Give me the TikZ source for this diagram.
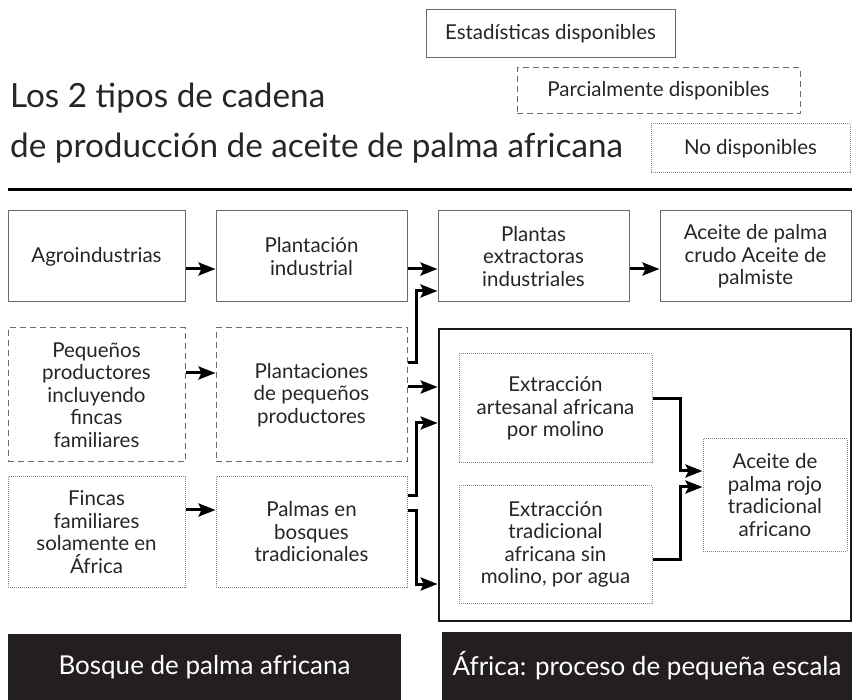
\documentclass[tikz,border=0pt]{standalone}
\usepackage{fontspec}
\setmainfont{Lato}
\usepackage{tikz}
\usetikzlibrary{arrows.meta}
\definecolor{darkbar}{HTML}{231F20}
\definecolor{boxgray}{HTML}{6A6A6A}

\begin{document}
\begin{tikzpicture}[x=1pt,y=-1pt,
    box/.style={draw=boxgray,line width=1pt,align=center,inner sep=2pt,
        font=\fontsize{20.5}{22.5}\selectfont,text=black!85},
    stat/.style={box},
    partial/.style={box,dash pattern=on 6pt off 4pt},
    nodata/.style={box,draw=boxgray!80,densely dotted},
    bar/.style={fill=darkbar,text=white,font=\fontsize{26}{30}\selectfont,inner sep=0pt},
    flow/.style={line width=3pt,-{Stealth[length=17pt,width=13pt,inset=3pt]}}]
\useasboundingbox (0,0) rectangle (852,700);
% legend
\node[stat,minimum width=249pt,minimum height=48pt] (legstat) at (550.5,34) {Estadísticas disponibles};
\node[partial,minimum width=283pt,minimum height=46pt] (legpart) at (658.5,91) {Parcialmente disponibles};
\node[nodata,minimum width=199pt,minimum height=49pt] (legnone) at (750.5,148.5) {No disponibles};
% title
\node[anchor=base west,inner sep=0pt,font=\fontsize{33.3}{40}\selectfont,text=black!85] (title1) at (10,108) {Los 2 tipos de cadena};
\node[anchor=base west,inner sep=0pt,font=\fontsize{33.3}{40}\selectfont,text=black!85] (title2) at (10,158) {de producción de aceite de palma africana};
\draw[line width=3pt] (8,190) -- (852,190);
% industrial chain
\node[stat,minimum width=177pt,minimum height=91pt] (agro) at (96.5,256.5) {Agroindustrias};
\node[stat,minimum width=191pt,minimum height=91pt] (plantind) at (311.5,256.5) {Plantación\\industrial};
\node[stat,minimum width=191pt,minimum height=91pt] (extract) at (533.5,256.5) {Plantas\\extractoras\\industriales};
\node[stat,minimum width=191pt,minimum height=91pt] (crudo) at (755.5,256.5) {Aceite de palma\\crudo Aceite de\\palmiste};
% small producers
\node[partial,minimum width=177pt,minimum height=134pt] (pequenos) at (96.5,395) {Pequeños\\productores\\incluyendo\\fincas\\familiares};
\node[partial,minimum width=191pt,minimum height=134pt] (plantpeq) at (311.5,395) {Plantaciones\\de pequeños\\productores};
% forest
\node[nodata,minimum width=177pt,minimum height=110pt] (fincas) at (96.5,532) {Fincas\\familiares\\solamente en\\África};
\node[nodata,minimum width=191pt,minimum height=110pt] (palmas) at (311.5,532) {Palmas en\\bosques\\tradicionales};
% african small scale process
\node[draw=black!90,line width=2.7pt,minimum width=412pt,minimum height=292pt] (africa) at (645,475) {};
\node[nodata,minimum width=193pt,minimum height=109pt] (artesanal) at (555.5,408.5) {Extracción\\artesanal africana\\por molino};
\node[nodata,minimum width=193pt,minimum height=117pt] (tradicional) at (555.5,544.5) {Extracción\\tradicional\\africana sin\\molino, por agua};
\node[nodata,minimum width=144pt,minimum height=112pt] (rojo) at (775,495) {Aceite de\\palma rojo\\tradicional\\africano};
% arrows
\draw[flow] ([yshift=-12.5pt]agro.east) -- ([yshift=-12.5pt]plantind.west);
\draw[flow] ([yshift=-12.5pt]plantind.east) -- ([yshift=-12.5pt]extract.west);
\draw[flow] ([yshift=-12.5pt]extract.east) -- ([yshift=-12.5pt]crudo.west);
\draw[flow] ([yshift=22pt]pequenos.east) -- ([yshift=22pt]plantpeq.west);
\draw[flow] ([yshift=22pt]fincas.east) -- ([yshift=22pt]palmas.west);
\draw[flow] ([yshift=32pt]plantpeq.east) -- ++(9,0) |- ([yshift=-34.5pt]extract.west);
\draw[flow] ([yshift=8pt]plantpeq.east) -- ([yshift=8pt]plantpeq.east -| africa.west);
\draw[flow] ([yshift=36pt]palmas.east) -- ++(9,0) |- ([yshift=52pt]africa.west);
\draw[flow] ([yshift=21pt]palmas.east) -- ++(9,0) |- ([yshift=-109pt]africa.west);
\draw[flow] ([yshift=9.5pt]artesanal.east) -- ++(28,0) |- ([yshift=24pt]rojo.west);
\draw[flow] ([yshift=-14.5pt]tradicional.east) -- ++(28,0) |- ([yshift=8pt]rojo.west);
% bottom labels
\node[bar,minimum width=393pt,minimum height=66pt] (bosque) at (204.5,667) {Bosque de palma africana};
\node[bar,minimum width=410pt,minimum height=68pt] (proceso) at (647,666) {África: proceso de pequeña escala};
\end{tikzpicture}
\end{document}
